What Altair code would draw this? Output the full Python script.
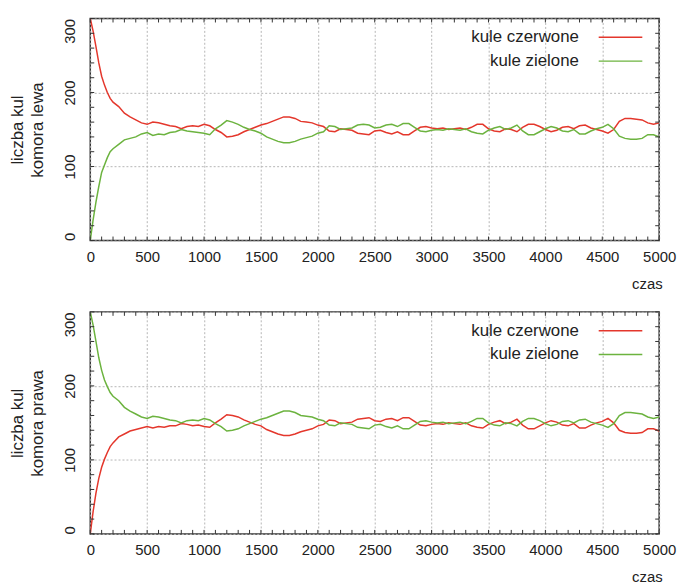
import altair as alt
import pandas as pd

# --- data ---
times = [0, 25, 50, 75, 100, 125, 150, 175, 200] + list(range(250, 5001, 50))

top_red = [300, 283, 262, 240, 222, 210, 200, 192, 187,
           181, 172, 167, 163, 159, 157, 160, 159, 157, 155,
           154, 151, 154, 155, 154, 157, 155, 150, 146, 140,
           141, 143, 147, 150, 153, 156, 158, 161, 164, 167,
           167, 165, 161, 160, 159, 156, 154, 148, 147, 151,
           150, 149, 145, 144, 143, 148, 149, 146, 144, 147,
           143, 143, 148, 153, 154, 152, 151, 152, 150, 151,
           152, 150, 153, 157, 157, 151, 148, 147, 151, 150,
           147, 153, 157, 157, 154, 150, 147, 149, 153, 154,
           151, 155, 156, 152, 150, 148, 145, 150, 161, 165,
           165, 164, 163, 159, 157, 159]

top_green = [0, 28, 52, 73, 92, 102, 112, 120, 124,
             130, 136, 138, 140, 144, 146, 142, 144, 143, 146,
             147, 150, 148, 147, 146, 145, 143, 151, 156, 162,
             160, 157, 153, 150, 148, 145, 140, 137, 134, 132,
             132, 134, 137, 139, 141, 145, 147, 155, 154, 150,
             151, 152, 156, 157, 156, 152, 153, 156, 157, 154,
             158, 158, 153, 148, 147, 149, 150, 149, 151, 150,
             149, 151, 147, 145, 144, 149, 152, 154, 150, 152,
             156, 148, 143, 143, 147, 151, 154, 152, 148, 147,
             150, 144, 144, 148, 151, 153, 157, 151, 141, 138,
             137, 137, 138, 143, 143, 140]

bottom_red = [0, 30, 55, 75, 90, 101, 110, 118, 123,
              131, 135, 139, 141, 143, 145, 143, 145, 144, 146,
              146, 149, 148, 146, 147, 145, 144, 150, 155, 161,
              160, 158, 154, 151, 148, 146, 141, 138, 135, 133,
              133, 135, 138, 140, 142, 146, 148, 154, 153, 149,
              150, 151, 155, 156, 157, 153, 152, 155, 156, 153,
              157, 157, 152, 147, 146, 148, 149, 148, 150, 149,
              148, 150, 146, 144, 143, 148, 151, 153, 149, 151,
              155, 147, 142, 142, 146, 150, 153, 151, 147, 146,
              149, 143, 143, 147, 150, 152, 156, 150, 140, 137,
              136, 136, 137, 142, 142, 139]

bottom_green = [300, 282, 260, 238, 221, 208, 199, 191, 186,
                180, 171, 166, 162, 158, 156, 159, 158, 156, 154,
                153, 150, 153, 154, 153, 156, 154, 149, 145, 139,
                140, 142, 146, 149, 152, 155, 157, 160, 163, 166,
                166, 164, 160, 159, 158, 155, 153, 147, 146, 150,
                149, 148, 144, 143, 142, 147, 148, 145, 143, 146,
                142, 142, 147, 152, 153, 151, 150, 151, 149, 150,
                151, 149, 152, 156, 156, 150, 147, 146, 150, 149,
                146, 152, 156, 156, 153, 149, 146, 148, 152, 153,
                150, 154, 155, 151, 149, 147, 144, 149, 160, 164,
                164, 163, 162, 158, 156, 158]

series_names = ["kule czerwone", "kule zielone"]
series_colors = ["#e4372c", "#6cb33f"]
x_major = list(range(0, 5001, 500))
x_minor = list(range(0, 5001, 100))
y_major = [0, 100, 200, 300]
y_minor = list(range(0, 301, 20))
x_title = "czas"
y_titles = [["liczba kul", "komora lewa"], ["liczba kul", "komora prawa"]]

# --- styling ---
W, H = 574, 224
FONT = "Liberation Sans"
TXT = "#222222"
xs = alt.Scale(domain=[0, 5000], nice=False, zero=False)
ys = alt.Scale(domain=[0, 300], nice=False)
cs = alt.Scale(domain=series_names, range=series_colors)

y_label_align = {
    "condition": [
        {"test": "datum.value >= 300", "value": "right"},
        {"test": "datum.value <= 0", "value": "left"},
    ],
    "value": "center",
}


def x_axis():
    return alt.Axis(
        values=x_major, format="d", grid=True, gridDash=[2, 2], gridColor="#b5b5b5",
        ticks=False, domain=False, labelFontSize=15, labelFont=FONT,
        labelColor=TXT, labelPadding=9, labelFlush=False, title=x_title,
        titleFont=FONT, titleFontSize=15, titleFontWeight="normal",
        titleColor=TXT, titleX=W + 3, titleY=43, titleAlign="right",
        titleBaseline="middle")


def y_axis(ytitle):
    return alt.Axis(
        values=y_major, format="d", grid=True, gridDash=[2, 2], gridColor="#b5b5b5",
        ticks=False, domain=False, labelFontSize=15, labelFont=FONT,
        labelColor=TXT, labelAngle=270, labelPadding=13, labelFlush=False,
        labelAlign=y_label_align,
        title=ytitle, titleFont=FONT, titleFontSize=17,
        titleFontWeight="normal", titleColor=TXT, titleAngle=270,
        titleX=-73, titleY=H / 2, titleAlign="center",
        titleBaseline="middle", titleLineHeight=20)


def panel(red, green, ytitle):
    n = len(times)
    df = pd.DataFrame({
        "t": times + times,
        "v": red + green,
        "s": [series_names[0]] * n + [series_names[1]] * n,
    })
    X = alt.X("t:Q", scale=xs, axis=x_axis())
    Y = alt.Y("v:Q", scale=ys, axis=y_axis(ytitle))
    lines = alt.Chart(df).mark_line(strokeWidth=1.5, clip=True).encode(
        x=X, y=Y,
        color=alt.Color("s:N", scale=cs, legend=None),
        detail="s:N",
    )
    xt = pd.DataFrame({"t": x_minor})
    yt = pd.DataFrame({"v": y_minor})
    tick_style = dict(color="#333333", strokeWidth=1)
    ticks = [
        alt.Chart(xt).mark_rule(**tick_style).encode(x=X, y=alt.value(H), y2=alt.value(H - 4)),
        alt.Chart(xt).mark_rule(**tick_style).encode(x=X, y=alt.value(0), y2=alt.value(4)),
        alt.Chart(yt).mark_rule(**tick_style).encode(y=Y, x=alt.value(0), x2=alt.value(4)),
        alt.Chart(yt).mark_rule(**tick_style).encode(y=Y, x=alt.value(W), x2=alt.value(W - 4)),
    ]
    legend = []
    for i, name in enumerate(series_names):
        ld = pd.DataFrame({"s": [name]})
        legend.append(alt.Chart(ld).mark_text(
            align="right", baseline="middle", fontSize=17, font=FONT, color=TXT
        ).encode(x=alt.value(493), y=alt.value(19 + 24 * i), text="s:N"))
        legend.append(alt.Chart(ld).mark_rule(strokeWidth=1.5).encode(
            x=alt.value(513), x2=alt.value(557), y=alt.value(19 + 24 * i),
            color=alt.Color("s:N", scale=cs, legend=None)))
    return alt.layer(lines, *ticks, *legend).properties(width=W, height=H)


chart = alt.vconcat(
    panel(top_red, top_green, y_titles[0]),
    panel(bottom_red, bottom_green, y_titles[1]),
    spacing=72, bounds="flush",
).properties(
    padding={"left": 0, "top": 6, "right": 0, "bottom": 0},
).configure_view(stroke="#333333", strokeWidth=1.5)

chart.save("out.html", embed_options={"renderer": "svg", "actions": False})
